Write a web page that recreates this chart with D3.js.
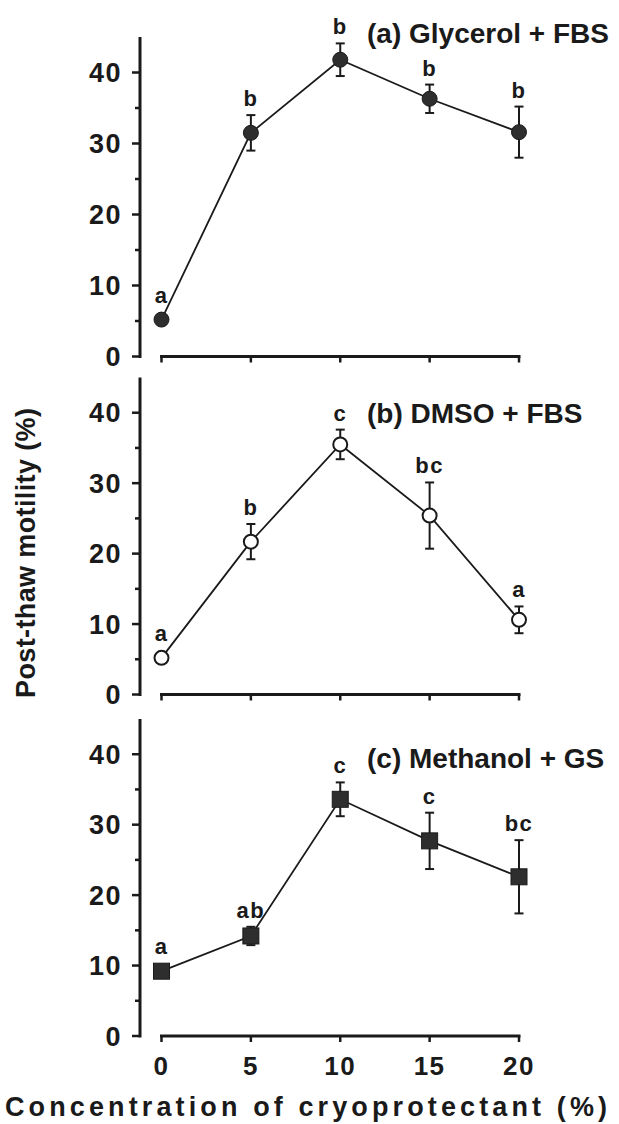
<!DOCTYPE html>
<html>
<head>
<meta charset="utf-8">
<script src="https://cdn.jsdelivr.net/npm/d3@7"></script>
<style>
  html, body { margin: 0; padding: 0; background: #ffffff; }
  svg { display: block; }
  text { font-family: "Liberation Sans", Arial, Helvetica, sans-serif; fill: #1a1a1a; }
</style>
</head>
<body>
<div id="chart"></div>
<script>
// ---------------- data ----------------
const concentrations = [0, 5, 10, 15, 20];
const xTickLabels = ["0", "5", "10", "15", "20"];
const yTickValues = [0, 10, 20, 30, 40];
const yMinorTicks = [5, 15, 25, 35];

const panelTitles = ["(a) Glycerol + FBS", "(b) DMSO + FBS", "(c) Methanol + GS"];

const glycerolMean = [5.2, 31.5, 41.8, 36.3, 31.6];
const glycerolErr = [0, 2.5, 2.3, 2.0, 3.6];
const glycerolLetters = ["a", "b", "b", "b", "b"];

const dmsoMean = [5.2, 21.7, 35.5, 25.4, 10.6];
const dmsoErr = [0, 2.5, 2.1, 4.7, 1.9];
const dmsoLetters = ["a", "b", "c", "bc", "a"];

const methanolMean = [9.2, 14.2, 33.6, 27.7, 22.6];
const methanolErr = [0, 1.3, 2.4, 4.0, 5.2];
const methanolLetters = ["a", "ab", "c", "c", "bc"];

const xTitle = "Concentration of cryoprotectant (%)";
const yTitle = "Post-thaw motility (%)";

// ---------------- layout ----------------
const W = 619, H = 1124;
const yAxisX = 140;
const panels = [
  { mean: glycerolMean, err: glycerolErr, letters: glycerolLetters, marker: "filledCircle", title: panelTitles[0], y0: 356.5, y45: 37,  titleY: 43 },
  { mean: dmsoMean,     err: dmsoErr,     letters: dmsoLetters,     marker: "openCircle",   title: panelTitles[1], y0: 694.5, y45: 377.5, titleY: 423 },
  { mean: methanolMean, err: methanolErr, letters: methanolLetters, marker: "square",       title: panelTitles[2], y0: 1036,  y45: 719, titleY: 768 }
];

const x = d3.scaleLinear().domain([0, 20]).range([161.5, 519]);

const svg = d3.select("#chart").append("svg")
  .attr("width", W).attr("height", H);

svg.append("rect").attr("width", W).attr("height", H).attr("fill", "#ffffff");

const ink = "#1a1a1a";

panels.forEach((p, pi) => {
  const y = d3.scaleLinear().domain([0, 45]).range([p.y0, p.y45]);
  const g = svg.append("g");

  // y axis line
  g.append("line")
    .attr("x1", yAxisX).attr("x2", yAxisX)
    .attr("y1", y(45)).attr("y2", y(0) + 1.5)
    .attr("stroke", ink).attr("stroke-width", 3);
  // major ticks
  g.selectAll(".ymaj").data(yTickValues).enter().append("line")
    .attr("x1", yAxisX - 8).attr("x2", yAxisX)
    .attr("y1", d => y(d)).attr("y2", d => y(d))
    .attr("stroke", ink).attr("stroke-width", 2.5);
  // minor ticks
  g.selectAll(".ymin").data(yMinorTicks).enter().append("line")
    .attr("x1", yAxisX - 5).attr("x2", yAxisX)
    .attr("y1", d => y(d)).attr("y2", d => y(d))
    .attr("stroke", ink).attr("stroke-width", 2.5);
  // y tick labels
  g.selectAll(".ylab").data(yTickValues).enter().append("text")
    .attr("x", 122).attr("y", d => y(d))
    .attr("dy", "0.36em")
    .attr("text-anchor", "end")
    .attr("font-size", 27).attr("font-weight", "bold")
    .attr("letter-spacing", 1.5)
    .text(d => d);

  // x axis line (offset from y axis)
  g.append("line")
    .attr("x1", x(0) - 1.5).attr("x2", x(20) + 1.5)
    .attr("y1", y(0)).attr("y2", y(0))
    .attr("stroke", ink).attr("stroke-width", 3);
  g.selectAll(".xt").data(concentrations).enter().append("line")
    .attr("x1", d => x(d)).attr("x2", d => x(d))
    .attr("y1", y(0)).attr("y2", y(0) + 6)
    .attr("stroke", ink).attr("stroke-width", 2.5);

  if (pi === panels.length - 1) {
    g.selectAll(".xlab").data(concentrations).enter().append("text")
      .attr("x", d => x(d)).attr("y", 1075)
      .attr("text-anchor", "middle")
      .attr("font-size", 26).attr("font-weight", "bold")
      .attr("letter-spacing", 1.5)
      .text((d, i) => xTickLabels[i]);
  }

  // panel title
  g.append("text")
    .attr("x", 367).attr("y", p.titleY)
    .attr("font-size", 28).attr("font-weight", "bold")
    .text(p.title);

  const pts = concentrations.map((c, i) => ({ c, m: p.mean[i], e: p.err[i], l: p.letters[i] }));

  // connecting line
  const line = d3.line().x(d => x(d.c)).y(d => y(d.m));
  g.append("path").datum(pts)
    .attr("d", line).attr("fill", "none")
    .attr("stroke", ink).attr("stroke-width", 1.8);

  // error bars
  const eb = g.selectAll(".eb").data(pts.filter(d => d.e > 0)).enter().append("g");
  eb.append("line")
    .attr("x1", d => x(d.c)).attr("x2", d => x(d.c))
    .attr("y1", d => y(d.m + d.e)).attr("y2", d => y(d.m - d.e))
    .attr("stroke", ink).attr("stroke-width", 2);
  eb.append("line")
    .attr("x1", d => x(d.c) - 4.5).attr("x2", d => x(d.c) + 4.5)
    .attr("y1", d => y(d.m + d.e)).attr("y2", d => y(d.m + d.e))
    .attr("stroke", ink).attr("stroke-width", 2);
  eb.append("line")
    .attr("x1", d => x(d.c) - 4.5).attr("x2", d => x(d.c) + 4.5)
    .attr("y1", d => y(d.m - d.e)).attr("y2", d => y(d.m - d.e))
    .attr("stroke", ink).attr("stroke-width", 2);

  // markers
  const r = 7.5;
  if (p.marker === "square") {
    g.selectAll(".mk").data(pts).enter().append("rect")
      .attr("x", d => x(d.c) - 8).attr("y", d => y(d.m) - 8)
      .attr("width", 16).attr("height", 16)
      .attr("fill", "#2e2e2e").attr("stroke", ink).attr("stroke-width", 1);
  } else {
    g.selectAll(".mk").data(pts).enter().append("circle")
      .attr("cx", d => x(d.c)).attr("cy", d => y(d.m))
      .attr("r", p.marker === "openCircle" ? r - 0.5 : r)
      .attr("fill", p.marker === "openCircle" ? "#ffffff" : "#2e2e2e")
      .attr("stroke", ink).attr("stroke-width", p.marker === "openCircle" ? 2 : 1);
  }

  // significance letters
  g.selectAll(".lt").data(pts).enter().append("text")
    .attr("x", d => x(d.c))
    .attr("y", d => Math.min(y(d.m + d.e), y(d.m) - 8) - 9)
    .attr("text-anchor", "middle")
    .attr("font-size", 22).attr("font-weight", "bold")
    .attr("letter-spacing", 1.5)
    .text(d => d.l);
});

// axis titles
svg.append("text")
  .attr("x", 306).attr("y", 1116)
  .attr("text-anchor", "middle")
  .attr("font-size", 27).attr("font-weight", "bold")
  .attr("textLength", 602).attr("lengthAdjust", "spacing")
  .text(xTitle);

svg.append("text")
  .attr("transform", "translate(35,553) rotate(-90)")
  .attr("text-anchor", "middle")
  .attr("font-size", 27).attr("font-weight", "bold")
  .attr("textLength", 290).attr("lengthAdjust", "spacing")
  .text(yTitle);
</script>
</body>
</html>
